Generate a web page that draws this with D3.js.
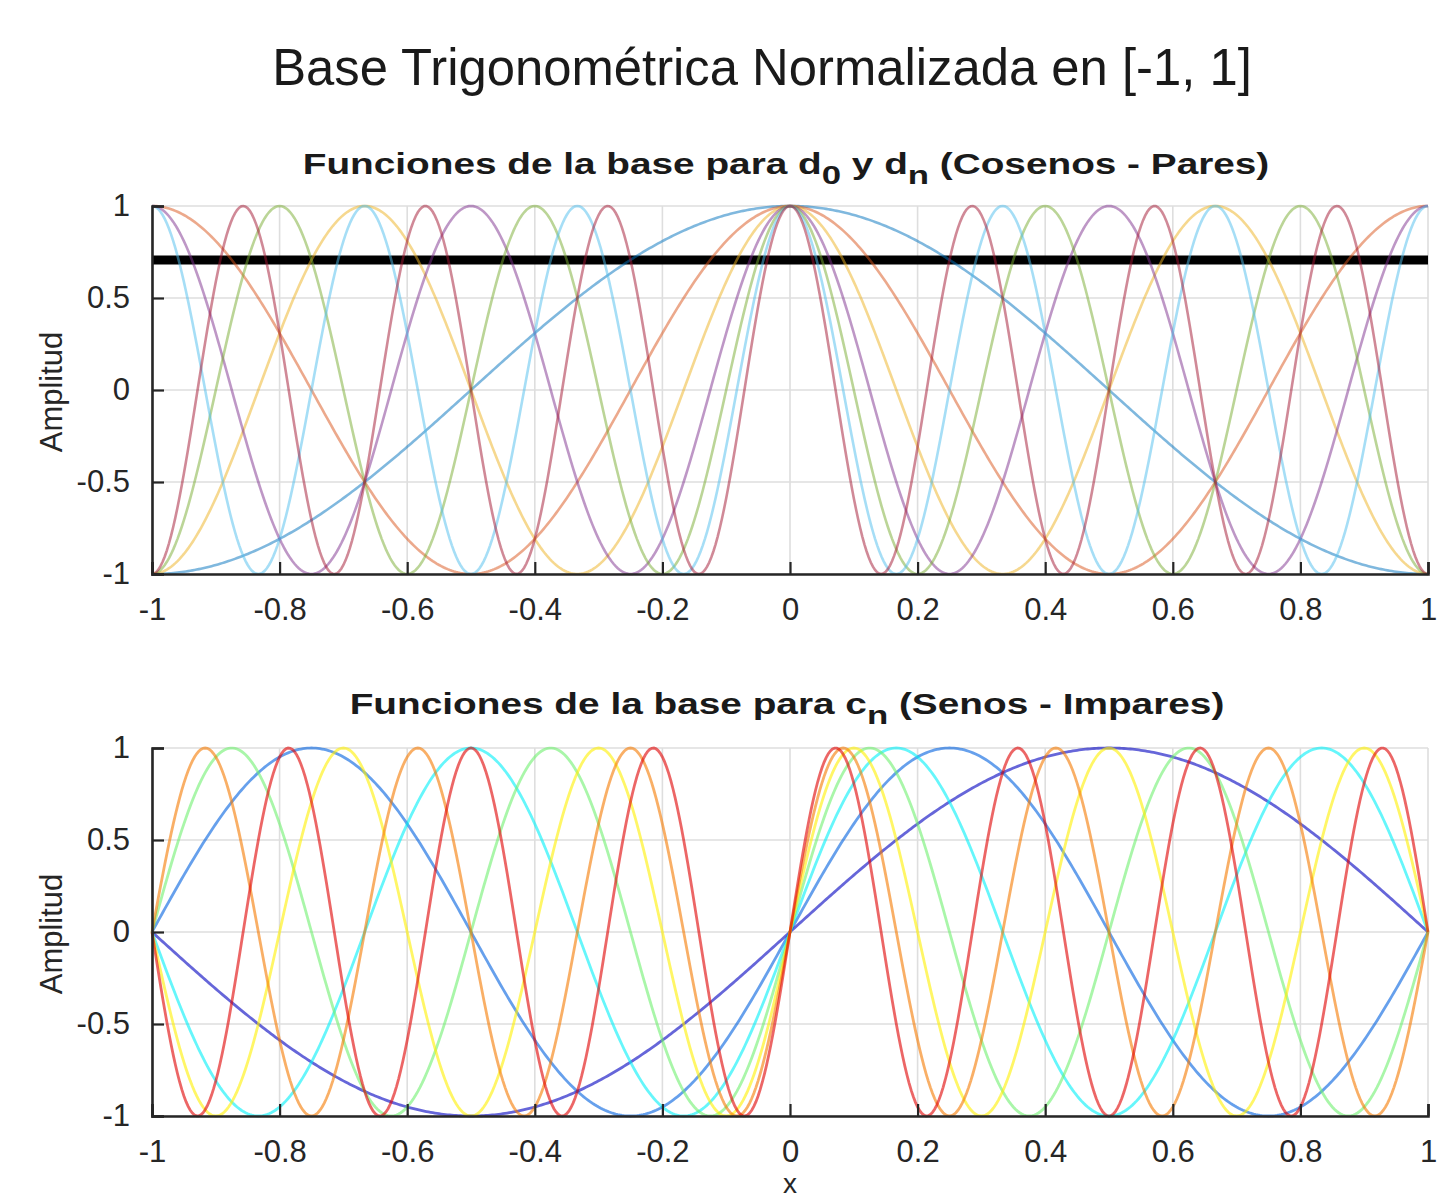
<!DOCTYPE html>
<html>
<head>
<meta charset="utf-8">
<script src="https://cdn.jsdelivr.net/npm/d3@7"></script>
<style>
  html, body { margin: 0; padding: 0; background: #fff; }
  svg { display: block; }
  text { font-family: "Liberation Sans", Arial, Helvetica, sans-serif; }
</style>
</head>
<body>
<svg id="chart" width="1439" height="1203"></svg>
<script>
// ---------------- data ----------------
const mainTitle = "Base Trigonométrica Normalizada en [-1, 1]";
const xTicks = [-1, -0.8, -0.6, -0.4, -0.2, 0, 0.2, 0.4, 0.6, 0.8, 1];
const xTickLabels = ["-1", "-0.8", "-0.6", "-0.4", "-0.2", "0", "0.2", "0.4", "0.6", "0.8", "1"];
const yTicks = [-1, -0.5, 0, 0.5, 1];
const yTickLabels = ["-1", "-0.5", "0", "0.5", "1"];
// constant basis function d0 : 1/sqrt(2)
const d0Level = [0.7071];
// harmonics n of cos(n*pi*x) (top) and sin(n*pi*x) (bottom)
const cosHarmonics = [1, 2, 3, 4, 5, 6, 7];
const sinHarmonics = [1, 2, 3, 4, 5, 6, 7];
const cosColors = ["#0072BD", "#D95319", "#EDB120", "#7E2F8E", "#77AC30", "#4DBEEE", "#A2142F"];
const sinColors = ["#0000C0", "#0060E0", "#00F0F8", "#70F070", "#FFF000", "#F57A00", "#E00000"];
const sampleCount = 600;

// ---------------- layout ----------------
const svg = d3.select("#chart");
svg.append("rect").attr("width", 1439).attr("height", 1203).attr("fill", "#fff");

const xs = d3.range(sampleCount + 1).map(i => -1 + 2 * i / sampleCount);

function fitText(sel, cx, targetW) {
  const w = sel.node().getBBox().width;
  const sx = targetW / w;
  sel.attr("transform", `translate(${cx},0) scale(${sx},1) translate(${-cx},0)`);
}

function drawPanel(cfg) {
  const x = d3.scaleLinear().domain([-1, 1]).range([152, 1428]);
  const y = d3.scaleLinear().domain([-1, 1]).range([cfg.bottom, cfg.top]);
  const g = svg.append("g");

  // grid
  g.append("g").selectAll("line").data(xTicks).join("line")
    .attr("x1", d => x(d)).attr("x2", d => x(d))
    .attr("y1", y(-1)).attr("y2", y(1))
    .attr("stroke", "#dedede").attr("stroke-width", 1.6);
  g.append("g").selectAll("line").data(yTicks).join("line")
    .attr("y1", d => y(d)).attr("y2", d => y(d))
    .attr("x1", x(-1)).attr("x2", x(1))
    .attr("stroke", "#dedede").attr("stroke-width", 1.6);

  const clipId = "clip" + cfg.id;
  svg.append("clipPath").attr("id", clipId).append("rect")
    .attr("x", x(-1) - 2).attr("y", y(1) - 3).attr("width", x(1) - x(-1) + 4).attr("height", y(-1) - y(1) + 6);
  const plot = g.append("g").attr("clip-path", `url(#${clipId})`);

  cfg.drawLines(plot, x, y);

  // axes
  const xAxis = d3.axisBottom(x).tickValues(xTicks).tickSize(-12).tickFormat((d, i) => xTickLabels[i]).tickPadding(24);
  const gx = g.append("g").attr("transform", `translate(0,${y(-1)})`).call(xAxis);
  const yAxis = d3.axisLeft(y).tickValues(yTicks).tickSize(-12).tickFormat((d, i) => yTickLabels[i]).tickPadding(22);
  const gy = g.append("g").attr("transform", `translate(${x(-1)},0)`).call(yAxis);
  [gx, gy].forEach(ax => {
    ax.select(".domain").attr("stroke", "#262626").attr("stroke-width", 2.6);
    ax.selectAll(".tick line").attr("stroke", "#262626").attr("stroke-width", 2.2);
    ax.selectAll(".tick text").attr("fill", "#262626").attr("font-size", 31)
      .attr("font-family", "Liberation Sans, Arial, sans-serif");
  });
  gx.selectAll(".tick text").attr("dy", "0.71em");

  // y label
  g.append("text")
    .attr("transform", `translate(62,${(y(1) + y(-1)) / 2 + 2}) rotate(-90)`)
    .attr("text-anchor", "middle").attr("font-size", 31).attr("fill", "#262626")
    .text("Amplitud");

  // subtitle with subscripts
  const t = svg.append("text").attr("x", cfg.titleCx).attr("y", cfg.titleY)
    .attr("text-anchor", "middle").attr("font-size", 29).attr("font-weight", "bold").attr("fill", "#1a1a1a");
  cfg.titleParts.forEach(p => {
    const ts = t.append("tspan").text(p.s);
    if (p.sub) ts.attr("dy", 10).attr("font-size", 26);
    if (p.after) ts.attr("dy", -10);
  });
  fitText(t, cfg.titleCx, cfg.titleW);
  return { x, y };
}

const line = (x, y, f) => d3.line().x(d => x(d)).y(d => y(f(d)));

// top panel: cosines
drawPanel({
  id: 1, top: 206, bottom: 574,
  titleCx: 786, titleW: 967, titleY: 174,
  titleParts: [
    { s: "Funciones de la base para d" }, { s: "0", sub: true },
    { s: " y d", after: true }, { s: "n", sub: true },
    { s: " (Cosenos - Pares)", after: true }
  ],
  drawLines: (plot, x, y) => {
    plot.append("g").selectAll("path").data(d0Level).join("path")
      .attr("d", v => line(x, y, () => v)(xs))
      .attr("fill", "none").attr("stroke", "#000").attr("stroke-width", 9);
    plot.append("g").selectAll("path").data(cosHarmonics).join("path")
      .attr("d", n => line(x, y, t => Math.cos(n * Math.PI * t))(xs))
      .attr("fill", "none")
      .attr("stroke", (n, i) => cosColors[i % cosColors.length])
      .attr("stroke-opacity", 0.5).attr("stroke-width", 2.6);
  }
});

// bottom panel: sines
drawPanel({
  id: 2, top: 748, bottom: 1116,
  titleCx: 787, titleW: 875, titleY: 714,
  titleParts: [
    { s: "Funciones de la base para c" }, { s: "n", sub: true },
    { s: " (Senos - Impares)", after: true }
  ],
  drawLines: (plot, x, y) => {
    plot.append("g").selectAll("path").data(sinHarmonics).join("path")
      .attr("d", n => line(x, y, t => Math.sin(n * Math.PI * t))(xs))
      .attr("fill", "none")
      .attr("stroke", (n, i) => sinColors[i % sinColors.length])
      .attr("stroke-opacity", 0.6).attr("stroke-width", 2.8);
  }
});

// x label
svg.append("text").attr("x", 790).attr("y", 1193).attr("text-anchor", "middle")
  .attr("font-size", 28).attr("fill", "#262626").text("x");

// main title
const mt = svg.append("text").attr("x", 762).attr("y", 85).attr("text-anchor", "middle")
  .attr("font-size", 51).attr("fill", "#1a1a1a").text(mainTitle);
fitText(mt, 762, 980);
</script>
</body>
</html>
